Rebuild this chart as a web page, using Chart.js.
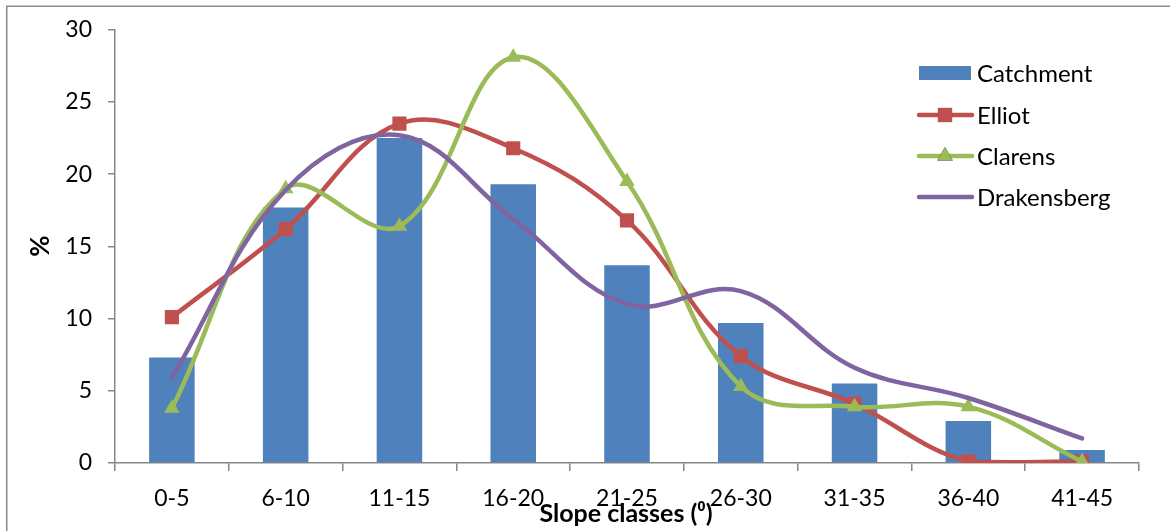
<!DOCTYPE html>
<html>
<head>
<meta charset="utf-8">
<script src="https://cdn.jsdelivr.net/npm/chart.js@4/dist/chart.umd.min.js"></script>
<style>
html,body{margin:0;padding:0;background:#fff;}
#wrap{width:1170px;height:531px;position:relative;}
</style>
</head>
<body>
<div id="wrap"><canvas id="c" width="1170" height="531"></canvas></div>
<script>
const categories = ['0-5','6-10','11-15','16-20','21-25','26-30','31-35','36-40','41-45'];
const catchment = [7.3, 17.7, 22.5, 19.3, 13.7, 9.7, 5.5, 2.9, 0.9];
const elliot = [10.1, 16.2, 23.5, 21.8, 16.8, 7.4, 4.1, 0.1, 0.1];
const clarens = [3.8, 19.0, 16.4, 28.1, 19.5, 5.3, 3.9, 3.9, 0.1];
const drakensberg = [5.9, 18.9, 22.7, 16.9, 11.0, 11.9, 6.6, 4.5, 1.7];
const yTicks = [0, 5, 10, 15, 20, 25, 30];
const seriesNames = ['Catchment', 'Elliot', 'Clarens', 'Drakensberg'];
const xTitle = 'Slope classes (\u2070)';
const yTitle = '%';

const FONT = 'Lato, Calibri, Carlito, sans-serif';
const AXIS = '#868686';

const framePlugin = {
  id: 'frame',
  beforeDraw(chart) {
    const ctx = chart.ctx;
    ctx.save();
    ctx.fillStyle = '#fff';
    ctx.fillRect(0, 0, chart.width, chart.height);
    ctx.strokeStyle = '#8a8a8a';
    ctx.lineWidth = 1.5;
    ctx.strokeRect(6.75, 6.25, 1300, 700);
    ctx.restore();
  }
};

const titlesPlugin = {
  id: 'titles',
  afterDraw(chart) {
    const ctx = chart.ctx;
    ctx.save();
    ctx.fillStyle = '#000';
    ctx.font = 'bold 25px ' + FONT;
    ctx.textAlign = 'center';
    ctx.textBaseline = 'alphabetic';
    ctx.fillText(xTitle, 626, 522);
    ctx.font = 'bold 26px ' + FONT;
    ctx.translate(41, 246);
    ctx.rotate(-Math.PI / 2);
    ctx.textBaseline = 'middle';
    ctx.fillText(yTitle, 0, 0);
    ctx.restore();
  }
};

const legendPlugin = {
  id: 'customLegend',
  afterDraw(chart) {
    const ctx = chart.ctx;
    const rows = [73, 115, 156, 197];
    ctx.save();
    chart.data.datasets.forEach((ds, i) => {
      const y = rows[i];
      if (ds.type === 'bar') {
        ctx.fillStyle = ds.backgroundColor;
        ctx.fillRect(919, y - 7, 52, 14);
      } else {
        ctx.strokeStyle = ds.borderColor;
        ctx.lineWidth = ds.borderWidth;
        ctx.lineCap = 'round';
        ctx.beginPath();
        ctx.moveTo(919, y);
        ctx.lineTo(972, y);
        ctx.stroke();
        if (ds.pointStyle && ds.pointRadius > 0) {
          Chart.helpers.drawPoint(ctx, {
            pointStyle: ds.pointStyle,
            radius: ds.pointRadius,
            rotation: 0,
            borderWidth: 0
          }, 945, y);
          ctx.fillStyle = ds.pointBackgroundColor;
          ctx.fill();
        }
      }
      ctx.fillStyle = '#000';
      ctx.font = '24px ' + FONT;
      ctx.textAlign = 'left';
      ctx.textBaseline = 'middle';
      ctx.fillText(ds.label, 977, y + 1);
    });
    ctx.restore();
  }
};

const lineCommon = {
  type: 'line',
  borderWidth: 4.5,
  tension: 0.38,
  fill: false,
  pointBorderWidth: 0,
  pointHoverRadius: 0
};

new Chart(document.getElementById('c'), {
  data: {
    labels: categories,
    datasets: [
      {
        type: 'bar', label: seriesNames[0], data: catchment,
        backgroundColor: '#4F81BD', borderWidth: 0,
        barPercentage: 0.4, categoryPercentage: 1.0, order: 4
      },
      Object.assign({}, lineCommon, {
        label: seriesNames[1], data: elliot,
        borderColor: '#C0504D', pointBackgroundColor: '#C0504D', pointBorderColor: '#C0504D',
        pointStyle: 'rect', pointRadius: 10, order: 3
      }),
      Object.assign({}, lineCommon, {
        label: seriesNames[2], data: clarens,
        borderColor: '#9BBB59', pointBackgroundColor: '#9BBB59', pointBorderColor: '#9BBB59',
        pointStyle: 'triangle', pointRadius: 9, order: 2
      }),
      Object.assign({}, lineCommon, {
        label: seriesNames[3], data: drakensberg,
        borderColor: '#8064A2', pointBackgroundColor: '#8064A2',
        pointStyle: 'circle', pointRadius: 0, order: 1, borderCapStyle: 'round'
      })
    ]
  },
  options: {
    responsive: false,
    animation: false,
    events: [],
    layout: { padding: { left: 0, right: 31, top: 29, bottom: 0 } },
    plugins: { legend: { display: false }, tooltip: { enabled: false } },
    scales: {
      x: {
        type: 'category',
        offset: true,
        grid: { display: true, offset: true, drawOnChartArea: false, drawTicks: true, tickLength: 8, color: AXIS, lineWidth: 1.5 },
        border: { display: true, color: AXIS, width: 1.5 },
        ticks: { color: '#000', font: { family: FONT, size: 23 }, padding: 14, maxRotation: 0, autoSkip: false },
        afterFit(s) { s.height = 68; }
      },
      y: {
        min: 0, max: 30,
        afterBuildTicks(s) { s.ticks = yTicks.map(v => ({ value: v })); },
        grid: { display: true, drawOnChartArea: false, drawTicks: true, tickLength: 7, color: AXIS, lineWidth: 1.5 },
        border: { display: true, color: AXIS, width: 1.5 },
        ticks: { color: '#000', font: { family: FONT, size: 23 }, padding: 16 },
        afterFit(s) { s.width = 115; }
      }
    }
  },
  plugins: [framePlugin, titlesPlugin, legendPlugin]
});
</script>
</body>
</html>
